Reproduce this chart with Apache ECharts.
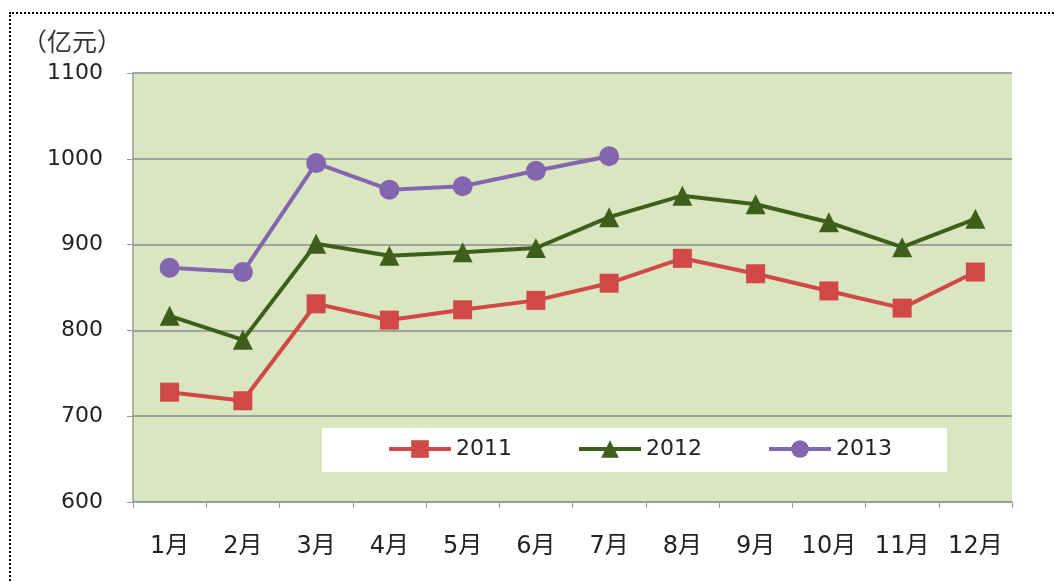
<!DOCTYPE html>
<html>
<head>
<meta charset="utf-8">
<script src="https://cdn.jsdelivr.net/npm/echarts@6/dist/echarts.min.js"></script>
<style>
  html, body { margin: 0; padding: 0; background: #fff; overflow: hidden; }
  #frame { position: absolute; left: 9px; top: 12px; width: 1100px; height: 620px; border: 2px dotted #000; }
  #main { position: absolute; left: 0; top: 0; width: 1054px; height: 582px; }
</style>
</head>
<body>
<div id="frame"></div>
<div id="main"></div>
<script>
const months = ['1月', '2月', '3月', '4月', '5月', '6月', '7月', '8月', '9月', '10月', '11月', '12月'];
const years = ['2011', '2012', '2013'];
const data_2011 = [728, 718, 831, 812, 824, 835, 855, 884, 866, 846, 826, 868];
const data_2012 = [817, 789, 901, 887, 891, 896, 932, 957, 947, 926, 897, 930];
const data_2013 = [873, 868, 995, 964, 968, 986, 1003];
const y_ticks = { min: 600, max: 1100, step: 100 };

const chartDom = document.getElementById('main');
const myChart = echarts.init(chartDom);

function lineSeries(name, data, color, symbol, size) {
    return {
        name: name,
        type: 'line',
        data: data,
        symbol: symbol,
        symbolSize: size,
        lineStyle: { color: color, width: 4 },
        itemStyle: { color: color },
        emphasis: { disabled: true }
    };
}

// one legend per year so each item sits where it does in the picture
const legend_left = [387, 577, 767];
const legends = years.map(function (y, i) {
    return {
        data: [y],
        left: legend_left[i],
        top: 438,
        padding: 0,
        itemWidth: 62,
        itemHeight: 22,
        itemGap: 0,
        lineStyle: { width: 4 },
        textStyle: { fontSize: 22, color: '#222', fontFamily: 'DejaVu Sans' }
    };
});

const option = {
    animation: false,
    textStyle: { fontFamily: 'Noto Sans CJK SC' },
    graphic: [
        {
            type: 'text',
            left: 22,
            top: 29,
            style: { text: '（亿元）', fontSize: 25, fill: '#333', fontFamily: 'Noto Sans CJK SC' }
        },
        {
            type: 'rect',
            left: 322,
            top: 428,
            z: 1,
            shape: { width: 625, height: 44 },
            style: { fill: '#ffffff' }
        }
    ],
    grid: {
        left: 133,
        right: 42,
        top: 73,
        bottom: 80,
        show: true,
        backgroundColor: '#d9e6c0',
        borderWidth: 0
    },
    legend: legends,
    xAxis: {
        type: 'category',
        data: months,
        boundaryGap: true,
        axisLine: { lineStyle: { color: '#999', width: 1.5 } },
        axisTick: { show: true, interval: 0, length: 6, lineStyle: { color: '#999' } },
        axisLabel: { interval: 0, fontSize: 24, color: '#222', margin: 33, fontFamily: 'DejaVu Sans, Noto Sans CJK SC' }
    },
    yAxis: {
        type: 'value',
        min: y_ticks.min,
        max: y_ticks.max,
        interval: y_ticks.step,
        axisLine: { show: true, lineStyle: { color: '#999', width: 1.5 } },
        axisTick: { show: true, length: 6, lineStyle: { color: '#999' } },
        axisLabel: {
            fontSize: 22,
            color: '#222',
            margin: 30,
            fontFamily: 'DejaVu Sans',
            formatter: function (v) { return String(v); }
        },
        splitLine: { lineStyle: { color: '#8c8c8c', width: 1.5 } }
    },
    series: [
        lineSeries('2011', data_2011, '#d04848', 'rect', 19),
        lineSeries('2012', data_2012, '#3e5f1c', 'triangle', 20),
        lineSeries('2013', data_2013, '#8466b0', 'circle', 20)
    ]
};

option && myChart.setOption(option);
</script>
</body>
</html>
